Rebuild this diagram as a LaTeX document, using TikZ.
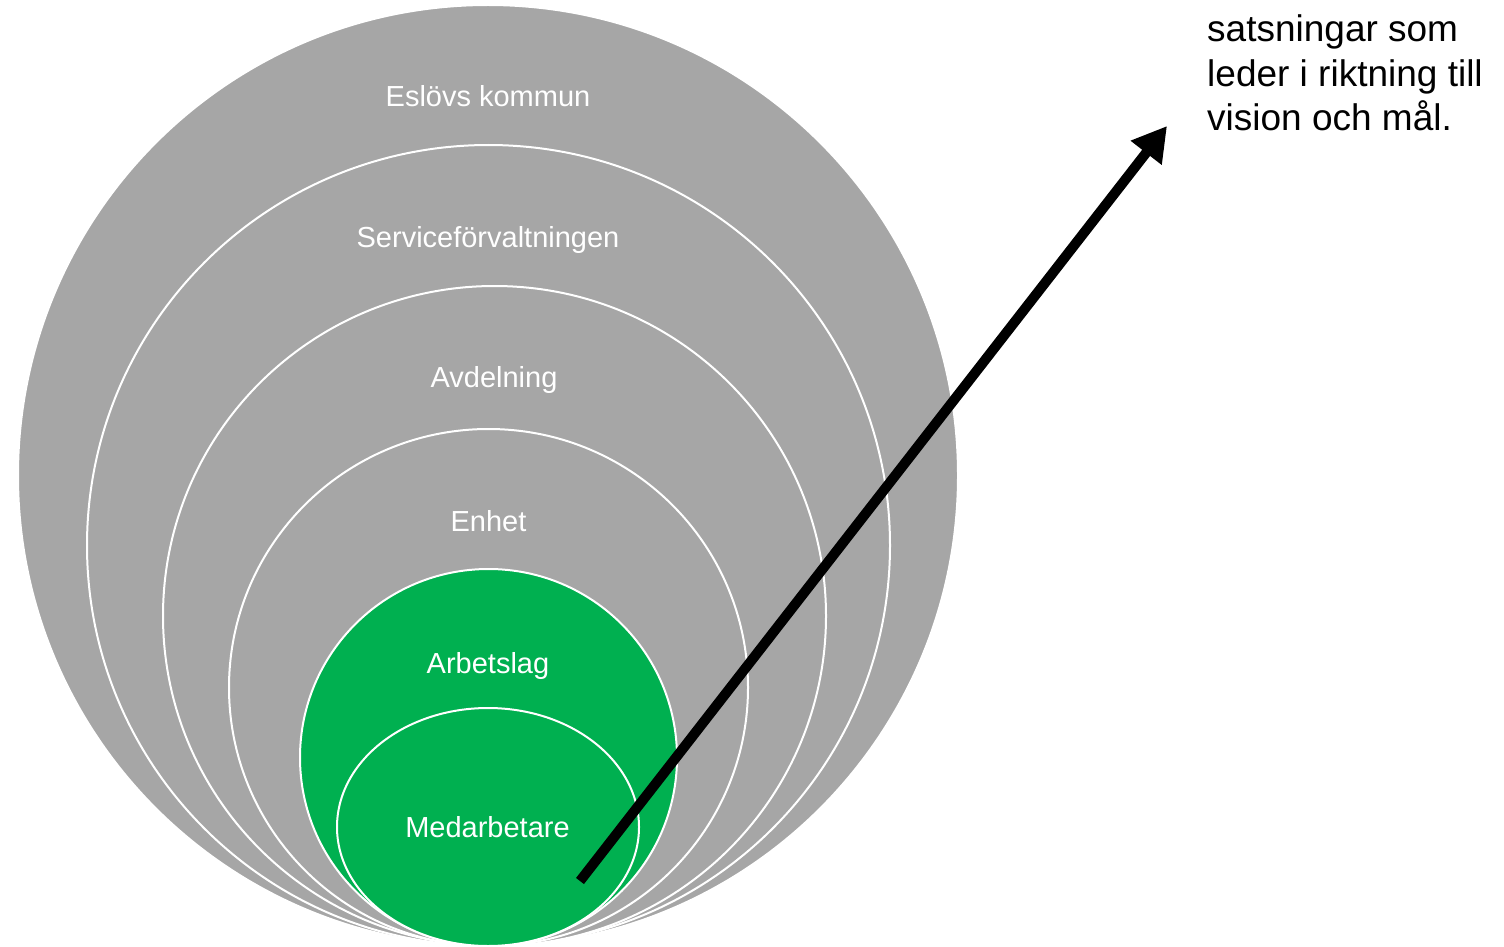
\documentclass[tikz,border=0pt]{standalone}
\usepackage{fontspec}
\setmainfont{Liberation Sans}
\usetikzlibrary{arrows.meta}
\definecolor{ringgray}{HTML}{A6A6A6}
\definecolor{ringgreen}{HTML}{00B050}
\tikzset{
  ring/.style={fill=ringgray, draw=white, line width=2pt},
  greenring/.style={fill=ringgreen, draw=white, line width=2pt},
  ringlabel/.style={text=white, font=\fontsize{29}{34}\selectfont, anchor=base, inner sep=0pt},
  notetext/.style={text=black, font=\fontsize{37}{44}\selectfont, anchor=base west, inner sep=0pt},
  bigarrow/.style={line width=10pt, -{Triangle[length=34pt,width=37pt]}}
}
\begin{document}
\begin{tikzpicture}[x=1pt,y=-1pt]
  \useasboundingbox (0,0) rectangle (1504,947);
  \clip (0,0) rectangle (1504,947);

  % nested levels, outermost first
  \filldraw[ring] (488,475.5) ellipse [x radius=470pt, y radius=470.5pt];
  \filldraw[ring] (488.5,545.5) ellipse [x radius=401.5pt, y radius=400.5pt];
  \filldraw[ring] (494.5,616) ellipse [x radius=331.5pt, y radius=330pt];
  \filldraw[ring] (488.5,687.5) ellipse [x radius=259.5pt, y radius=258.5pt];
  \filldraw[greenring] (488.5,757.5) ellipse [x radius=188.5pt, y radius=188.5pt];
  \filldraw[greenring] (488,827) ellipse [x radius=151pt, y radius=119pt];

  % level names
  \node[ringlabel] (kommun) at (488,107) {Eslövs kommun};
  \node[ringlabel] (forvaltning) at (488,247) {Serviceförvaltningen};
  \node[ringlabel] (avdelning) at (494,387) {Avdelning};
  \node[ringlabel] (enhet) at (488.5,531) {Enhet};
  \node[ringlabel] (arbetslag) at (488,673) {Arbetslag};
  \node[ringlabel] (medarbetare) at (487.5,837) {Medarbetare};

  % direction arrow
  \coordinate (start) at (580,881);
  \coordinate (tip) at (1167,126);
  \draw[bigarrow] (start) -- (tip);

  % note text
  \node[notetext] (line1) at (1207,42) {satsningar som};
  \node[notetext] (line2) at (1207,87) {leder i riktning till};
  \node[notetext] (line3) at (1207,131) {vision och mål.};
\end{tikzpicture}
\end{document}
